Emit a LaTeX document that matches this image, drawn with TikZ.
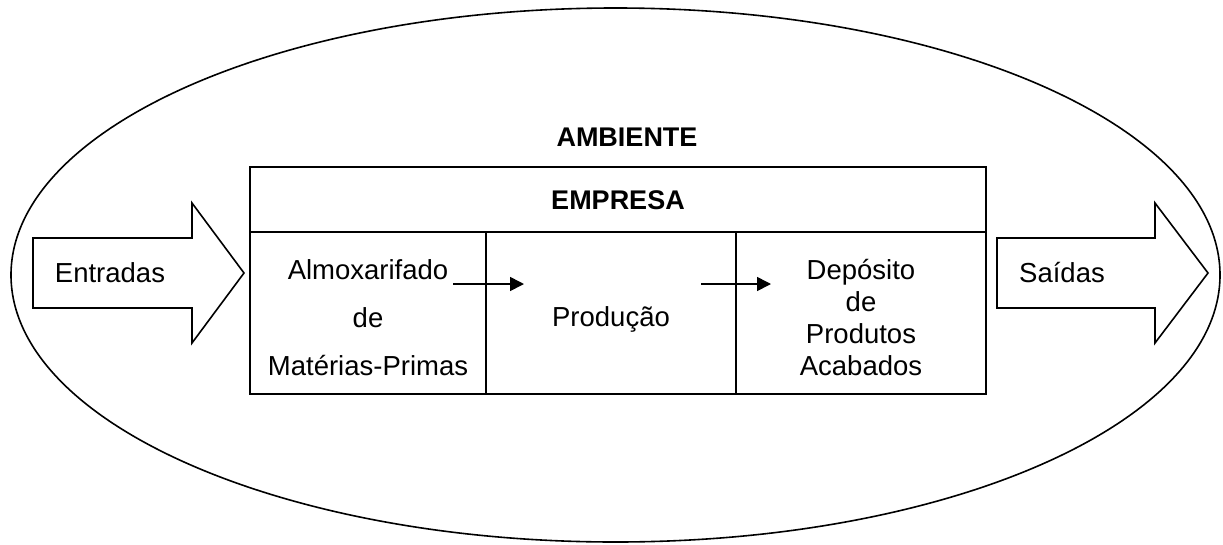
\documentclass[tikz,border=0pt]{standalone}
\usepackage{fontspec}
\setmainfont{Liberation Sans}
\usetikzlibrary{arrows.meta}
\begin{document}
\begin{tikzpicture}
  [x=1pt,y=-1pt,line join=miter,
   lbl/.style={font=\fontsize{27.5}{32}\selectfont,align=center,inner sep=0pt},
   title/.style={font=\fontsize{27}{32}\selectfont\bfseries,inner sep=0pt},
   bigarrow/.style={draw,line width=1.6pt,fill=white},
   flow/.style={line width=1.6pt,-{Triangle[length=14pt,width=14pt]}}]
  \useasboundingbox (0,0) rectangle (1223,544);
  % ambiente
  \draw[line width=1.6pt] (615.5,275) ellipse (604.5pt and 267pt);
  \node[title] (amb) at (627,137) {AMBIENTE};
  % entradas e saidas
  \draw[bigarrow] (33,238) -- (192,238) -- (192,203) -- (244,273)
    -- (192,343) -- (192,308) -- (33,308) -- cycle;
  \node[lbl] (ent) at (110,273) {Entradas};
  \draw[bigarrow] (997,238) -- (1155,238) -- (1155,203) -- (1208,273)
    -- (1155,343) -- (1155,308) -- (997,308) -- cycle;
  \node[lbl] (sai) at (1062,273) {Saídas};
  % empresa
  \draw[line width=2.4pt] (250,167) rectangle (986,394);
  \draw[line width=1.3pt] (250,232) -- (986,232);
  \draw[line width=1.3pt] (486,232) -- (486,394);
  \draw[line width=1.3pt] (736,232) -- (736,394);
  \node[title] (emp) at (618,200) {EMPRESA};
  \node[lbl] (alm) at (368,318) {Almoxarifado\\[16pt]de\\[16pt]Matérias-Primas};
  \node[lbl] (prod) at (611,319) {Produção};
  \node[lbl] (dep) at (861,318) {Depósito\\de\\Produtos\\Acabados};
  % fluxo
  \coordinate (f1a) at (453,284);
  \coordinate (f1b) at (524,284);
  \coordinate (f2a) at (701,284);
  \coordinate (f2b) at (771,284);
  \draw[flow] (f1a) -- (f1b);
  \draw[flow] (f2a) -- (f2b);
\end{tikzpicture}
\end{document}
